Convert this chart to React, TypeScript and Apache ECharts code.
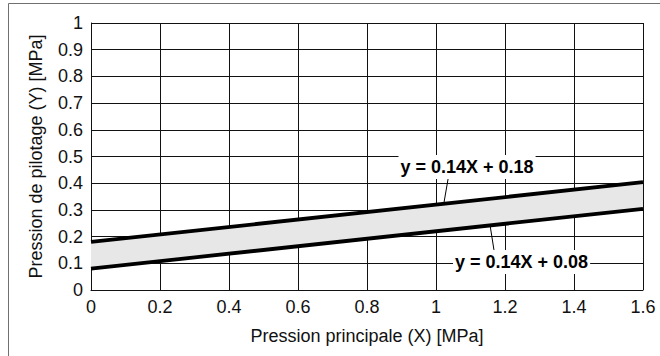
import React, { useEffect, useRef } from "react";
import * as echarts from "echarts";

const xTicks = [0, 0.2, 0.4, 0.6, 0.8, 1, 1.2, 1.4, 1.6];
const xLine = [0, 1.6];
const upperY = [0.18, 0.404];
const lowerY = [0.08, 0.304];
const upperLabel = "y = 0.14X + 0.18";
const lowerLabel = "y = 0.14X + 0.08";
// annotation anchors: [text x, text y, leader start x, leader start y, leader end x, leader end y]
const upperAnno = [1.09, 0.461, 1.035, 0.416, 1.023, 0.326];
const lowerAnno = [1.248, 0.105, 1.168, 0.15, 1.157, 0.24];

const FONT = "'Liberation Sans', Arial, Helvetica, sans-serif";

export default function App() {
  const ref = useRef<HTMLDivElement>(null);
  useEffect(() => {
    if (!ref.current) return;
    const chart = echarts.init(ref.current, undefined, { renderer: "svg" });
    const bandPts = [
      ...xLine.map((x, i) => [x, upperY[i]]),
      ...xLine.map((x, i) => [x, lowerY[i]]).reverse(),
    ];
    chart.setOption({
      animation: false,
      backgroundColor: "#fff",
      grid: { left: 91, top: 23, width: 552, height: 267, containLabel: false },
      graphic: [
        {
          type: "rect",
          shape: { x: 8.5, y: 3.5, width: 700, height: 400 },
          style: { fill: "none", stroke: "#707070", lineWidth: 1 },
          z: -1,
        },
      ],
      xAxis: {
        type: "value",
        min: 0,
        max: 1.6,
        interval: 0.2,
        name: "Pression principale (X) [MPa]",
        nameLocation: "middle",
        nameGap: 37,
        nameTextStyle: { fontFamily: FONT, fontSize: 18, color: "#111" },
        axisLine: { show: true, lineStyle: { color: "#111", width: 1 } },
        axisTick: { show: false },
        axisLabel: {
          fontFamily: FONT,
          fontSize: 18,
          color: "#111",
          margin: 8,
          formatter: (v: number) => String(Number(v.toFixed(1))),
        },
        splitLine: { show: true, lineStyle: { color: "#111", width: 1 } },
      },
      yAxis: {
        type: "value",
        min: 0,
        max: 1,
        interval: 0.1,
        name: "Pression de pilotage (Y) [MPa]",
        nameLocation: "middle",
        nameGap: 46,
        nameTextStyle: { fontFamily: FONT, fontSize: 18, color: "#111" },
        axisLine: { show: true, lineStyle: { color: "#111", width: 1 } },
        axisTick: { show: false },
        axisLabel: {
          fontFamily: FONT,
          fontSize: 18,
          color: "#111",
          margin: 8,
          formatter: (v: number) => String(Number(v.toFixed(1))),
        },
        splitLine: { show: true, lineStyle: { color: "#111", width: 1 } },
      },
      series: [
        {
          type: "custom",
          z: 1,
          data: [[0, 0]],
          renderItem: (_params: any, api: any) => ({
            type: "polygon",
            shape: { points: bandPts.map((p) => api.coord(p)) },
            style: { fill: "#e6e7e6", stroke: "none" },
          }),
          silent: true,
        },
        {
          type: "line",
          z: 3,
          data: xLine.map((x, i) => [x, upperY[i]]),
          symbol: "none",
          lineStyle: { color: "#000", width: 3.8 },
        },
        {
          type: "line",
          z: 3,
          data: xLine.map((x, i) => [x, lowerY[i]]),
          symbol: "none",
          lineStyle: { color: "#000", width: 3.8 },
        },
        {
          type: "custom",
          z: 4,
          data: [
            [...upperAnno, 0],
            [...lowerAnno, 1],
          ],
          renderItem: (params: any, api: any) => {
            const t = api.coord([api.value(0), api.value(1)]);
            const a = api.coord([api.value(2), api.value(3)]);
            const b = api.coord([api.value(4), api.value(5)]);
            const txt = params.dataIndex === 0 ? upperLabel : lowerLabel;
            return {
              type: "group",
              children: [
                {
                  type: "line",
                  shape: { x1: a[0], y1: a[1], x2: b[0], y2: b[1] },
                  style: { stroke: "#000", lineWidth: 1 },
                },
                {
                  type: "text",
                  x: t[0],
                  y: t[1],
                  style: {
                    text: txt,
                    fontFamily: FONT,
                    fontSize: 18,
                    fontWeight: "bold",
                    fill: "#000",
                    align: "center",
                    verticalAlign: "middle",
                    backgroundColor: "#fff",
                    padding: [3, 2],
                  },
                },
              ],
            };
          },
          silent: true,
        },
      ],
    });
    return () => chart.dispose();
  }, []);
  return (
    <div
      ref={ref}
      style={{ position: "absolute", left: 0, top: 0, width: 660, height: 356 }}
    />
  );
}
